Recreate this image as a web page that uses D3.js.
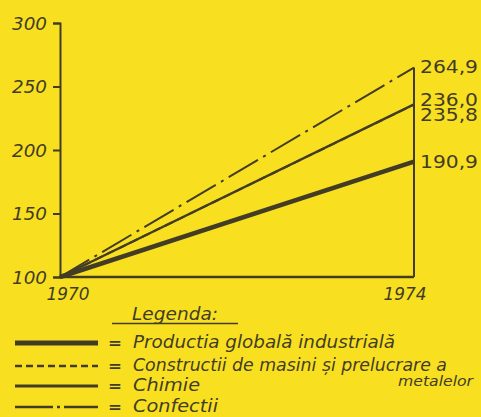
<!DOCTYPE html>
<html>
<head>
<meta charset="utf-8">
<script src="https://cdn.jsdelivr.net/npm/d3@7"></script>
<style>
  html, body { margin: 0; padding: 0; background: #f8e021; }
  svg { display: block; }
  text { font-family: "DejaVu Sans Condensed", "DejaVu Sans", sans-serif; fill: #433c25; }
</style>
</head>
<body>
<div class="container"></div>
<script>
const WIDTH = 481;
const HEIGHT = 417;
const INK = "#433c25";

var years = [1970, 1974];
var yTicks = [100, 150, 200, 250, 300];

// legend order, end values (1970 = 100)
var seriesNames = ["Productia globală industrială", "Constructii de masini și prelucrare a", "Chimie", "Confectii"];
var seriesStart = [100, 100, 100, 100];
var seriesEnd = [190.9, 235.8, 236.0, 264.9];
var endLabels = ["190,9", "235,8", "236,0", "264,9"];
var seriesWidth = [4.5, 2, 2.5, 2];
var seriesDash = [null, "8,5", null, "34,6,3,6"];
var legendDash = [null, "7,4", null, "38,4,3,4,40"];
var labelShift = [6, 16.5, 2, 5];
var legendLen = [262, 314, 67, 85];

var load = function(){
    var svg = d3.select(".container")
        .append("svg")
        .attr("width", WIDTH)
        .attr("height", HEIGHT);

    var x = d3.scaleLinear().domain([1970, 1974]).range([60, 414]);
    var y = d3.scaleLinear().domain([100, 300]).range([277, 23]);

    // y axis
    var yAxis = d3.axisLeft(y).tickValues(yTicks).tickSize(7).tickPadding(6);
    var ga = svg.append("g").attr("transform", "translate(" + x(1970) + ",0)").call(yAxis);
    ga.select(".domain").attr("stroke", INK).attr("stroke-width", 2);
    ga.selectAll(".tick line").attr("stroke", INK).attr("stroke-width", 2);
    ga.selectAll(".tick text")
        .attr("fill", INK)
        .attr("font-family", null)
        .attr("font-size", null)
        .style("font-size", "18px")
        .style("font-style", "italic")
        .attr("textLength", 35)
        .attr("lengthAdjust", "spacingAndGlyphs")
        .attr("dy", "0.35em");

    // x axis line
    svg.append("line")
        .attr("x1", x(1970)).attr("x2", x(1974))
        .attr("y1", y(100)).attr("y2", y(100))
        .attr("stroke", INK).attr("stroke-width", 2.5);

    // right vertical line at 1974
    svg.append("line")
        .attr("x1", x(1974)).attr("x2", x(1974))
        .attr("y1", y(d3.max(seriesEnd))).attr("y2", y(100))
        .attr("stroke", INK).attr("stroke-width", 2);

    svg.selectAll(".year")
        .data(years)
        .enter()
        .append("text")
        .attr("class", "year")
        .attr("x", function(d){ return x(d) + (d == 1970 ? 8 : -9)})
        .attr("y", 300)
        .attr("text-anchor", "middle")
        .style("font-size", "18px")
        .style("font-style", "italic")
        .attr("textLength", 43)
        .attr("lengthAdjust", "spacingAndGlyphs")
        .text(function(d){ return d});

    // series lines
    svg.selectAll(".series")
        .data(seriesEnd)
        .enter()
        .append("line")
        .attr("class", "series")
        .attr("x1", x(1970))
        .attr("y1", function(d, i){ return y(seriesStart[i])})
        .attr("x2", x(1974))
        .attr("y2", function(d){ return y(d)})
        .attr("stroke", INK)
        .attr("stroke-width", function(d, i){ return seriesWidth[i]})
        .attr("stroke-dasharray", function(d, i){ return seriesDash[i]});

    svg.selectAll(".endlabel")
        .data(seriesEnd)
        .enter()
        .append("text")
        .attr("class", "endlabel")
        .attr("x", x(1974) + 6)
        .attr("y", function(d, i){ return y(d) + labelShift[i]})
        .style("font-size", "17px")
        .attr("textLength", 58)
        .attr("lengthAdjust", "spacingAndGlyphs")
        .text(function(d, i){ return endLabels[i]});

    // legend
    var lg = svg.append("g");
    lg.append("text")
        .attr("x", 132).attr("y", 320)
        .style("font-size", "17px")
        .style("font-style", "italic")
        .attr("textLength", 86)
        .attr("lengthAdjust", "spacingAndGlyphs")
        .text("Legenda:");
    lg.append("line")
        .attr("x1", 112).attr("x2", 238)
        .attr("y1", 323.5).attr("y2", 323.5)
        .attr("stroke", INK).attr("stroke-width", 1.5);

    var rowY = [343, 366, 386, 407];
    var rows = lg.selectAll(".row")
        .data(seriesNames)
        .enter()
        .append("g")
        .attr("class", "row")
        .attr("transform", function(d, i){ return "translate(0," + rowY[i] + ")"});

    rows.append("line")
        .attr("x1", 15).attr("x2", 98)
        .attr("y1", 0).attr("y2", 0)
        .attr("stroke", INK)
        .attr("stroke-width", function(d, i){ return seriesWidth[i] + 0.5})
        .attr("stroke-dasharray", function(d, i){ return legendDash[i]});

    rows.append("text")
        .attr("x", 108).attr("y", 5)
        .style("font-size", "15px")
        .style("font-weight", "bold")
        .attr("textLength", 14)
        .attr("lengthAdjust", "spacingAndGlyphs")
        .text("=");

    rows.append("text")
        .attr("x", 133).attr("y", 5)
        .style("font-size", "18px")
        .style("font-style", "italic")
        .attr("textLength", function(d, i){ return legendLen[i]})
        .attr("lengthAdjust", "spacingAndGlyphs")
        .text(function(d){ return d});

    lg.append("text")
        .attr("x", 398).attr("y", 386)
        .style("font-size", "14px")
        .style("font-style", "italic")
        .attr("textLength", 75)
        .attr("lengthAdjust", "spacingAndGlyphs")
        .text("metalelor");
};

window.onload = load;
</script>
</body>
</html>
